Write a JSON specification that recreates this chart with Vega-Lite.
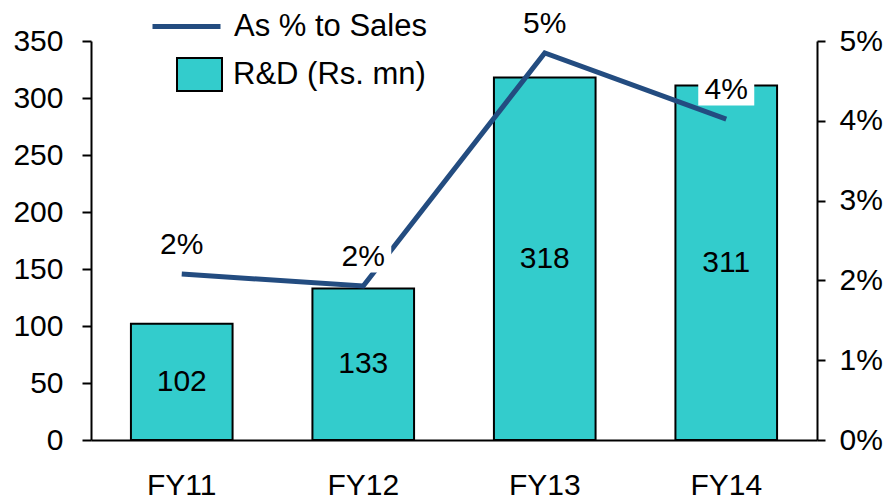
{
  "$schema": "https://vega.github.io/schema/vega-lite/v6.json",
  "autosize": "none",
  "width": 726,
  "height": 399,
  "padding": {"left": 91, "top": 41, "right": 73, "bottom": 63},
  "background": "white",
  "config": {
    "view": {"stroke": null},
    "font": "Liberation Sans",
    "axis": {"labelFont": "Liberation Sans", "labelFontSize": 30, "labelColor": "black", "domainColor": "black", "tickColor": "black", "grid": false, "title": null}
  },
  "data": {
    "values": [
      {"year": "FY11", "rd": 102, "pct": 0.0208},
      {"year": "FY12", "rd": 133, "pct": 0.0193},
      {"year": "FY13", "rd": 318, "pct": 0.0485},
      {"year": "FY14", "rd": 311, "pct": 0.0402}
    ]
  },
  "encoding": {
    "x": {
      "field": "year", "type": "nominal", "sort": null,
      "scale": {"paddingInner": 0.44, "paddingOuter": 0.22},
      "axis": {"labelAngle": 0, "ticks": false, "domainWidth": 2, "labelPadding": 30, "labelFontSize": 30}
    }
  },
  "layer": [
    {
      "mark": {"type": "bar", "stroke": "black", "strokeWidth": 2},
      "encoding": {
        "y": {"field": "rd", "type": "quantitative", "scale": {"domain": [0, 350]},
          "axis": {"values": [0, 50, 100, 150, 200, 250, 300, 350], "tickSize": 9, "tickWidth": 2, "domainWidth": 2, "labelPadding": 19}},
        "fill": {"datum": "R&D (Rs. mn)", "type": "nominal", "scale": {"range": ["#33CCCC"]},
          "legend": {"orient": "none", "legendX": 85, "legendY": 10, "title": null, "padding": 0, "labelLimit": 0,
            "symbolType": "M-1,-0.73H1V0.73H-1Z", "symbolSize": 2025, "symbolStrokeColor": "black", "symbolStrokeWidth": 2, "symbolFillColor": "#33CCCC",
            "labelFont": "Liberation Sans", "labelFontSize": 31, "labelColor": "black", "labelOffset": 10}}
      }
    },
    {
      "mark": {"type": "text", "font": "Liberation Sans", "fontSize": 30, "color": "black", "baseline": "middle"},
      "encoding": {
        "y": {"field": "rd", "type": "quantitative", "scale": {"domain": [0, 700]}, "axis": null},
        "text": {"field": "rd", "type": "quantitative"}
      }
    },
    {
      "mark": {"type": "line", "strokeWidth": 5},
      "encoding": {
        "y": {"field": "pct", "type": "quantitative", "scale": {"domain": [0, 0.05]},
          "axis": {"orient": "right", "format": ".0%", "values": [0, 0.01, 0.02, 0.03, 0.04, 0.05], "tickSize": 8, "tickWidth": 2, "domainWidth": 2, "labelPadding": 14}},
        "stroke": {"datum": "As % to Sales", "type": "nominal", "scale": {"range": ["#234C80"]},
          "legend": {"orient": "none", "legendX": 59, "legendY": -51, "title": null, "padding": 0, "labelLimit": 0,
            "symbolType": "stroke", "symbolSize": 4624, "symbolStrokeWidth": 5,
            "labelFont": "Liberation Sans", "labelFontSize": 31, "labelColor": "black", "labelOffset": 11}}
      }
    },
    {
      "mark": {"type": "point", "shape": "M-1,-0.55H1V0.55H-1Z", "size": 3136, "filled": true, "color": "white", "opacity": 1, "yOffset": -29},
      "encoding": {
        "y": {"field": "pct", "type": "quantitative", "scale": {"domain": [0, 0.05]}, "axis": null}
      }
    },
    {
      "mark": {"type": "text", "font": "Liberation Sans", "fontSize": 30, "color": "black", "baseline": "middle", "dy": -29},
      "encoding": {
        "y": {"field": "pct", "type": "quantitative", "scale": {"domain": [0, 0.05]}, "axis": null},
        "text": {"field": "pct", "type": "quantitative", "format": ".0%"}
      }
    }
  ],
  "resolve": {"scale": {"y": "independent", "fill": "independent", "stroke": "independent"}}
}
